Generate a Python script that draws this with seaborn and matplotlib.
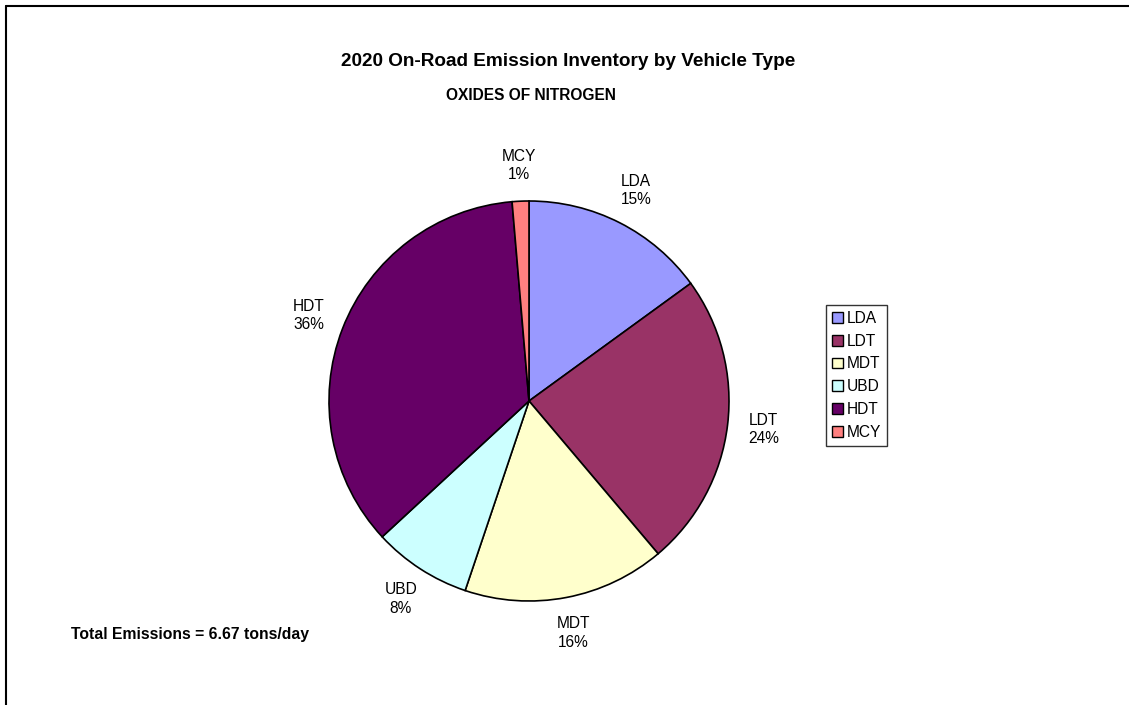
import matplotlib
matplotlib.use("Agg")
import matplotlib.pyplot as plt
import matplotlib.patches as mpatches
from matplotlib.lines import Line2D
import seaborn as sns

vehicle_types = ["LDA", "LDT", "MDT", "UBD", "HDT", "MCY"]
emissions = [1.00, 1.59, 1.09, 0.53, 2.37, 0.09]   # tons/day
colors = ["#9999FF", "#993366", "#FFFFCC", "#CCFFFF", "#660066", "#FF8080"]
total = 6.67

sns.set_style("white")
plt.rcParams["font.family"] = ["Liberation Sans", "DejaVu Sans"]
plt.rcParams["text.color"] = "black"

W, H = 1129, 705
fig = plt.figure(figsize=(W / 100, H / 100), dpi=100)

# outer chart frame (only top and left edges are visible)
fig.add_artist(Line2D([5.5 / W, 5.5 / W], [0, 1 - 5.5 / H], color="black", lw=1.5, transform=fig.transFigure))
fig.add_artist(Line2D([5.5 / W, 1], [1 - 5.5 / H, 1 - 5.5 / H], color="black", lw=1.5, transform=fig.transFigure))

cx, cy, r = 529, 401, 200
ax = fig.add_axes([(cx - 1.25 * r) / W, (H - cy - 1.25 * r) / H, 2.5 * r / W, 2.5 * r / H])

pct = [v / sum(emissions) * 100 for v in emissions]
labels = [f"{n}\n{p:.0f}%" for n, p in zip(vehicle_types, pct)]

wedges, texts = ax.pie(emissions, colors=colors, labels=labels, startangle=90, counterclock=False,
                       labeldistance=1.18, wedgeprops=dict(edgecolor="black", linewidth=1.2),
                       textprops=dict(fontsize=11.2, linespacing=1.28, color="black"))
for t in texts:
    t.set_ha("center")
    t.set_va("center")
ax.set_xlim(-1.25, 1.25)
ax.set_ylim(-1.25, 1.25)
ax.set_aspect("equal")

fig.text(568 / W, 1 - 62 / H, "2020 On-Road Emission Inventory by Vehicle Type", ha="center", va="center",
         fontsize=13.7, fontweight="bold")
fig.text(531 / W, 1 - 95 / H, "OXIDES OF NITROGEN", ha="center", va="center", fontsize=11.2, fontweight="bold")
fig.text(71 / W, 1 - 635 / H, f"Total Emissions = {total:.2f} tons/day", ha="left", va="center",
         fontsize=11.3, fontweight="bold")

handles = [mpatches.Patch(facecolor=c, edgecolor="black", linewidth=1.0) for c in colors]
leg = fig.legend(handles, vehicle_types, loc="upper left", bbox_to_anchor=(826 / W, 1 - 305 / H),
                 frameon=True, fancybox=False, fontsize=11.2, handlelength=0.7, handleheight=0.7,
                 handletextpad=0.25, labelspacing=0.5, borderpad=0.38, borderaxespad=0)
leg.get_frame().set_edgecolor("black")
leg.get_frame().set_linewidth(1.0)

fig.savefig("out.png", dpi=100)
